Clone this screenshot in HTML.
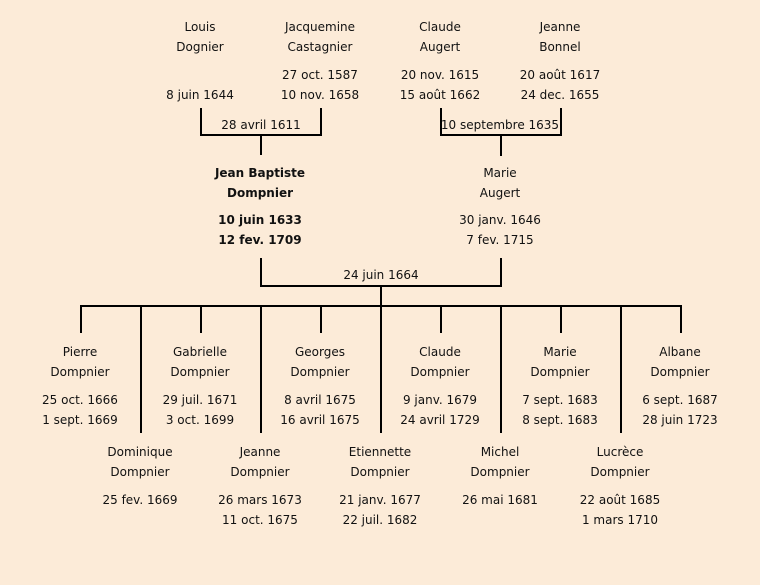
<!DOCTYPE html>
<html><head><meta charset="utf-8"><style>
html,body{margin:0;padding:0;background:#fcebd8;}
svg{display:block;}
text{font-family:"DejaVu Sans","Liberation Sans",sans-serif;font-size:12px;fill:#111;text-anchor:middle;dominant-baseline:central;}
.b{font-weight:bold;}
</style></head><body>
<svg width="760" height="585" viewBox="0 0 760 585" xmlns="http://www.w3.org/2000/svg">
<rect width="760" height="585" fill="#fcebd8"/>
<g stroke="#000" stroke-width="2" fill="none">
<path d="M201 108V135H321V108M261 135V155"/>
<path d="M441 108V135H561V108M501 135V156"/>
<path d="M261 258V286H501V258M381 286V306"/>
<path d="M80 306H682"/>
<path d="M81 306V333M201 306V333M321 306V333M441 306V333M561 306V333M681 306V333"/>
<path d="M141 306V433M261 306V433M381 306V433M501 306V433M621 306V433"/>
</g>
<text x="200" y="27">Louis</text><text x="200" y="47">Dognier</text>
<text x="200" y="95">8 juin 1644</text>
<text x="320" y="27">Jacquemine</text><text x="320" y="47">Castagnier</text>
<text x="320" y="75">27 oct. 1587</text><text x="320" y="95">10 nov. 1658</text>
<text x="440" y="27">Claude</text><text x="440" y="47">Augert</text>
<text x="440" y="75">20 nov. 1615</text><text x="440" y="95">15 août 1662</text>
<text x="560" y="27">Jeanne</text><text x="560" y="47">Bonnel</text>
<text x="560" y="75">20 août 1617</text><text x="560" y="95">24 dec. 1655</text>
<text x="261" y="125">28 avril 1611</text>
<text x="500" y="125">10 septembre 1635</text>
<text class="b" x="260" y="173">Jean Baptiste</text><text class="b" x="260" y="193">Dompnier</text>
<text class="b" x="260" y="220">10 juin 1633</text><text class="b" x="260" y="240">12 fev. 1709</text>
<text x="500" y="173">Marie</text><text x="500" y="193">Augert</text>
<text x="500" y="220">30 janv. 1646</text><text x="500" y="240">7 fev. 1715</text>
<text x="381" y="275">24 juin 1664</text>

<text x="80" y="352">Pierre</text><text x="80" y="372">Dompnier</text>
<text x="80" y="400">25 oct. 1666</text><text x="80" y="420">1 sept. 1669</text>
<text x="200" y="352">Gabrielle</text><text x="200" y="372">Dompnier</text>
<text x="200" y="400">29 juil. 1671</text><text x="200" y="420">3 oct. 1699</text>
<text x="320" y="352">Georges</text><text x="320" y="372">Dompnier</text>
<text x="320" y="400">8 avril 1675</text><text x="320" y="420">16 avril 1675</text>
<text x="440" y="352">Claude</text><text x="440" y="372">Dompnier</text>
<text x="440" y="400">9 janv. 1679</text><text x="440" y="420">24 avril 1729</text>
<text x="560" y="352">Marie</text><text x="560" y="372">Dompnier</text>
<text x="560" y="400">7 sept. 1683</text><text x="560" y="420">8 sept. 1683</text>
<text x="680" y="352">Albane</text><text x="680" y="372">Dompnier</text>
<text x="680" y="400">6 sept. 1687</text><text x="680" y="420">28 juin 1723</text>

<text x="140" y="452">Dominique</text><text x="140" y="472">Dompnier</text>
<text x="140" y="500">25 fev. 1669</text>
<text x="260" y="452">Jeanne</text><text x="260" y="472">Dompnier</text>
<text x="260" y="500">26 mars 1673</text><text x="260" y="520">11 oct. 1675</text>
<text x="380" y="452">Etiennette</text><text x="380" y="472">Dompnier</text>
<text x="380" y="500">21 janv. 1677</text><text x="380" y="520">22 juil. 1682</text>
<text x="500" y="452">Michel</text><text x="500" y="472">Dompnier</text>
<text x="500" y="500">26 mai 1681</text>
<text x="620" y="452">Lucrèce</text><text x="620" y="472">Dompnier</text>
<text x="620" y="500">22 août 1685</text><text x="620" y="520">1 mars 1710</text>
</svg>
</body></html>
